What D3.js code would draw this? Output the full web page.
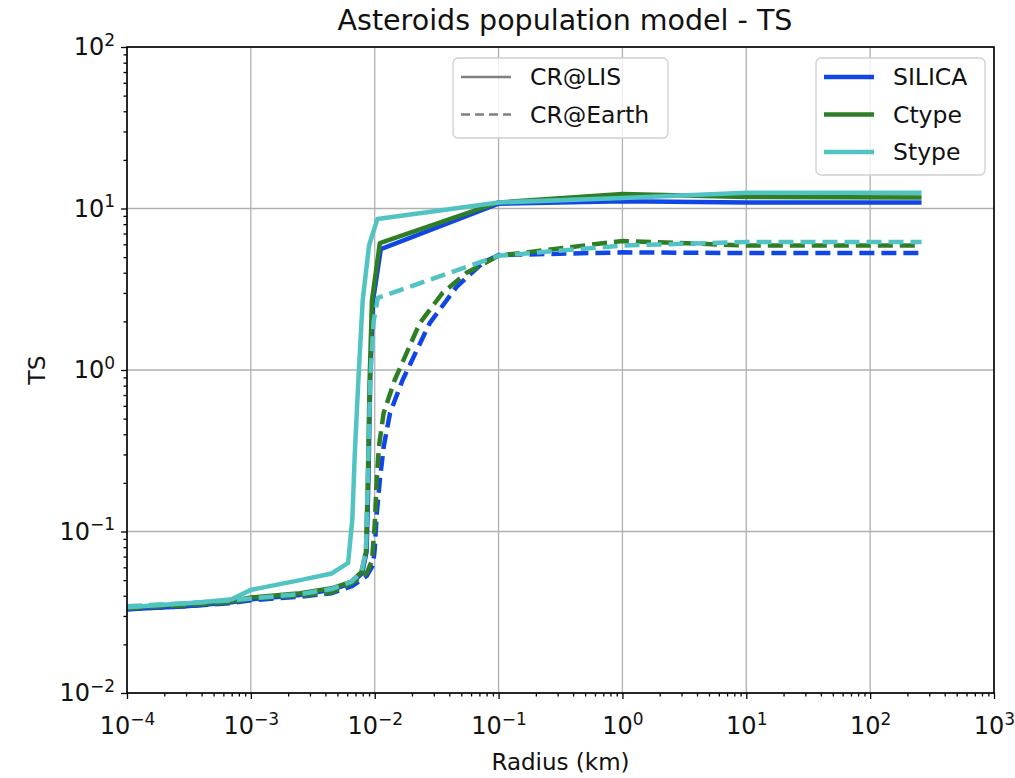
<!DOCTYPE html>
<html>
<head>
<meta charset="utf-8">
<script src="https://cdn.jsdelivr.net/npm/d3@7"></script>
<style>
  html, body { margin: 0; padding: 0; background: #ffffff; }
  svg { display: block; font-family: "DejaVu Sans", sans-serif; }
</style>
</head>
<body>
<svg id="chart" width="1015" height="778"></svg>
<script>
// Axis decades
const xDecades = [-4, -3, -2, -1, 0, 1, 2, 3];
const yDecades = [-2, -1, 0, 1, 2];

// SILICA
const silicaLisR  = [1e-4, 3e-4, 7e-4, 1e-3, 2.5e-3, 4.5e-3, 6.5e-3, 7.9e-3, 8.6e-3, 8.9e-3, 9.2e-3, 9.7e-3, 1.12e-2, 1e-1, 1, 10, 260];
const silicaLisTS = [0.033, 0.0345, 0.0365, 0.038, 0.0405, 0.0435, 0.048, 0.055, 0.075, 0.21, 0.87, 2.7, 5.6, 10.7, 11.1, 10.9, 10.9];
const silicaEarthR  = [1e-4, 3e-4, 7e-4, 1e-3, 2.5e-3, 4.5e-3, 6.6e-3, 8.6e-3, 9.7e-3, 1.0e-2, 1.04e-2, 1.1e-2, 1.18e-2, 1.33e-2, 1.68e-2, 2.78e-2, 4.58e-2, 7.43e-2, 1e-1, 1, 10, 260];
const silicaEarthTS = [0.033, 0.0345, 0.036, 0.0375, 0.0395, 0.0415, 0.046, 0.053, 0.062, 0.078, 0.13, 0.208, 0.333, 0.542, 0.867, 1.95, 3.27, 4.6, 5.15, 5.35, 5.3, 5.3];

// Ctype
const ctypeLisR  = [1e-4, 3e-4, 7e-4, 1e-3, 2.5e-3, 4.5e-3, 6.5e-3, 7.8e-3, 8.5e-3, 8.8e-3, 9.1e-3, 9.5e-3, 1.1e-2, 1e-1, 1, 10, 260];
const ctypeLisTS = [0.034, 0.0355, 0.037, 0.039, 0.0415, 0.0445, 0.049, 0.056, 0.075, 0.21, 0.87, 2.7, 6.1, 10.9, 12.3, 11.8, 11.7];
const ctypeEarthR  = [1e-4, 3e-4, 7e-4, 1e-3, 2.5e-3, 4.5e-3, 6.6e-3, 8.6e-3, 9.5e-3, 1.0e-2, 1.038e-2, 1.08e-2, 1.18e-2, 1.45e-2, 2.31e-2, 3.53e-2, 5.52e-2, 1e-1, 1, 10, 260];
const ctypeEarthTS = [0.0335, 0.035, 0.0365, 0.0385, 0.040, 0.042, 0.048, 0.055, 0.066, 0.11, 0.208, 0.333, 0.542, 0.867, 1.95, 3.0, 4.0, 5.1, 6.3, 5.9, 5.9];

// Stype
const stypeLisR  = [1e-4, 4e-4, 7e-4, 1e-3, 2.5e-3, 4.5e-3, 6.1e-3, 6.6e-3, 6.9e-3, 7.4e-3, 8.0e-3, 9.0e-3, 1.05e-2, 1e-1, 1, 10, 260];
const stypeLisTS = [0.034, 0.0365, 0.038, 0.0435, 0.050, 0.055, 0.064, 0.12, 0.3, 0.9, 2.7, 5.9, 8.6, 10.9, 11.6, 12.5, 12.5];
const stypeEarthR  = [1e-4, 3e-4, 7e-4, 1e-3, 2.5e-3, 4.5e-3, 6.5e-3, 7.8e-3, 8.5e-3, 8.8e-3, 9.2e-3, 9.8e-3, 1.06e-2, 1e-1, 1, 10, 260];
const stypeEarthTS = [0.0345, 0.036, 0.0375, 0.0385, 0.041, 0.044, 0.049, 0.056, 0.075, 0.21, 0.87, 2.0, 2.8, 5.1, 5.9, 6.2, 6.2];

const materials = ["SILICA", "Ctype", "Stype"];
const materialColors = ["#1146e6", "#2f7d24", "#52c3c3"];
const fluxLabels = ["CR@LIS", "CR@Earth"];

const series = [
  { r: silicaLisR,   ts: silicaLisTS,   mat: 0, dashed: false },
  { r: silicaEarthR, ts: silicaEarthTS, mat: 0, dashed: true },
  { r: ctypeLisR,    ts: ctypeLisTS,    mat: 1, dashed: false },
  { r: ctypeEarthR,  ts: ctypeEarthTS,  mat: 1, dashed: true },
  { r: stypeLisR,    ts: stypeLisTS,    mat: 2, dashed: false },
  { r: stypeEarthR,  ts: stypeEarthTS,  mat: 2, dashed: true }
];

const svg = d3.select("#chart");
const L = 127, R = 994, T = 47, B = 693;

const x = d3.scaleLog().domain([1e-4, 1e3]).range([L, R]);
const y = d3.scaleLog().domain([1e-2, 1e2]).range([B, T]);

const xMajor = xDecades.map(e => Math.pow(10, e));
const yMajor = yDecades.map(e => Math.pow(10, e));
const minorsOf = (decs) => {
  const out = [];
  for (let i = 0; i < decs.length - 1; i++)
    for (let m = 2; m <= 9; m++) out.push(m * Math.pow(10, decs[i]));
  return out;
};
const xMinor = minorsOf(xDecades);
const yMinor = minorsOf(yDecades);

// grid
const grid = svg.append("g");
grid.selectAll("line.gx").data(xMajor).join("line")
  .attr("x1", d => x(d)).attr("x2", d => x(d)).attr("y1", T).attr("y2", B)
  .attr("stroke", "#b0b0b0").attr("stroke-width", 1.3);
grid.selectAll("line.gy").data(yMajor).join("line")
  .attr("x1", L).attr("x2", R).attr("y1", d => y(d)).attr("y2", d => y(d))
  .attr("stroke", "#b0b0b0").attr("stroke-width", 1.3);

// curves
svg.append("clipPath").attr("id", "plotclip").append("rect")
  .attr("x", L).attr("y", T).attr("width", R - L).attr("height", B - T);
const line = d3.line().x(d => x(d[0])).y(d => y(d[1]));
const curves = svg.append("g").attr("clip-path", "url(#plotclip)");
series.forEach(s => {
  curves.append("path")
    .datum(s.r.map((r, i) => [r, s.ts[i]]))
    .attr("d", line)
    .attr("fill", "none")
    .attr("stroke", materialColors[s.mat])
    .attr("stroke-width", 4.5)
    .attr("stroke-linejoin", "round")
    .attr("stroke-dasharray", s.dashed ? "15,7" : null);
});

// axes
const supLabel = (sel, e) => {
  sel.text(null);
  sel.append("tspan").text("10");
  sel.append("tspan").attr("dy", "-0.55em").attr("font-size", "17px")
    .text(e < 0 ? "\u2212" + Math.abs(e) : String(e));
};

const xAxis = svg.append("g").attr("transform", `translate(0,${B})`)
  .call(d3.axisBottom(x).tickValues(xMajor).tickSize(6).tickPadding(11).tickFormat(""));
xAxis.selectAll(".tick text").each(function(d) {
  d3.select(this).call(supLabel, Math.round(Math.log10(d)));
});
svg.append("g").attr("transform", `translate(0,${B})`)
  .call(d3.axisBottom(x).tickValues(xMinor).tickSize(3.5).tickFormat(""));

const yAxis = svg.append("g").attr("transform", `translate(${L},0)`)
  .call(d3.axisLeft(y).tickValues(yMajor).tickSize(6).tickPadding(6).tickFormat(""));
yAxis.selectAll(".tick text").each(function(d) {
  d3.select(this).call(supLabel, Math.round(Math.log10(d)));
});
svg.append("g").attr("transform", `translate(${L},0)`)
  .call(d3.axisLeft(y).tickValues(yMinor).tickSize(3.5).tickFormat(""));

svg.selectAll(".tick line").attr("stroke", "#000").attr("stroke-width", 1.3);
svg.selectAll(".domain").remove();
svg.selectAll(".tick text").attr("font-size", "24px").attr("fill", "#111")
  .attr("font-family", "DejaVu Sans, sans-serif");
xAxis.selectAll(".tick text").attr("dy", "1.0em");
yAxis.selectAll(".tick text").attr("dy", "0.32em");

// frame
svg.append("rect").attr("x", L).attr("y", T).attr("width", R - L).attr("height", B - T)
  .attr("fill", "none").attr("stroke", "#000").attr("stroke-width", 1.6);

// titles
svg.append("text").attr("x", 565).attr("y", 30).attr("text-anchor", "middle")
  .attr("font-size", "28.5px").attr("fill", "#111").text("Asteroids population model - TS");
svg.append("text").attr("x", (L + R) / 2).attr("y", 770).attr("text-anchor", "middle")
  .attr("font-size", "23px").attr("fill", "#111").text("Radius (km)");
svg.append("text").attr("transform", `translate(45,${(T + B) / 2}) rotate(-90)`)
  .attr("text-anchor", "middle").attr("font-size", "23.5px").attr("fill", "#111").text("TS");

// legend boxes
const legend = (x0, y0, w, h, rows) => {
  const g = svg.append("g");
  g.append("rect").attr("x", x0).attr("y", y0).attr("width", w).attr("height", h)
    .attr("rx", 5).attr("fill", "#fff").attr("fill-opacity", 0.8)
    .attr("stroke", "#d0d0d0").attr("stroke-width", 1.3);
  rows.forEach((r, i) => {
    const cy = y0 + 19 + i * 37.5;
    g.append("line").attr("x1", x0 + 8).attr("x2", x0 + 58).attr("y1", cy).attr("y2", cy)
      .attr("stroke", r.color).attr("stroke-width", r.width)
      .attr("stroke-dasharray", r.dash);
    g.append("text").attr("x", x0 + 77).attr("y", cy).attr("dy", "0.35em")
      .attr("font-size", "23.5px").attr("fill", "#111").text(r.label);
  });
};
legend(453, 58, 215, 80, fluxLabels.map((lab, i) => ({
  label: lab, color: "#808080", width: 2.6, dash: i === 1 ? "9,5" : null
})));
legend(816, 58, 169, 117, materials.map((lab, i) => ({
  label: lab, color: materialColors[i], width: 4.5, dash: null
})));
</script>
</body>
</html>
